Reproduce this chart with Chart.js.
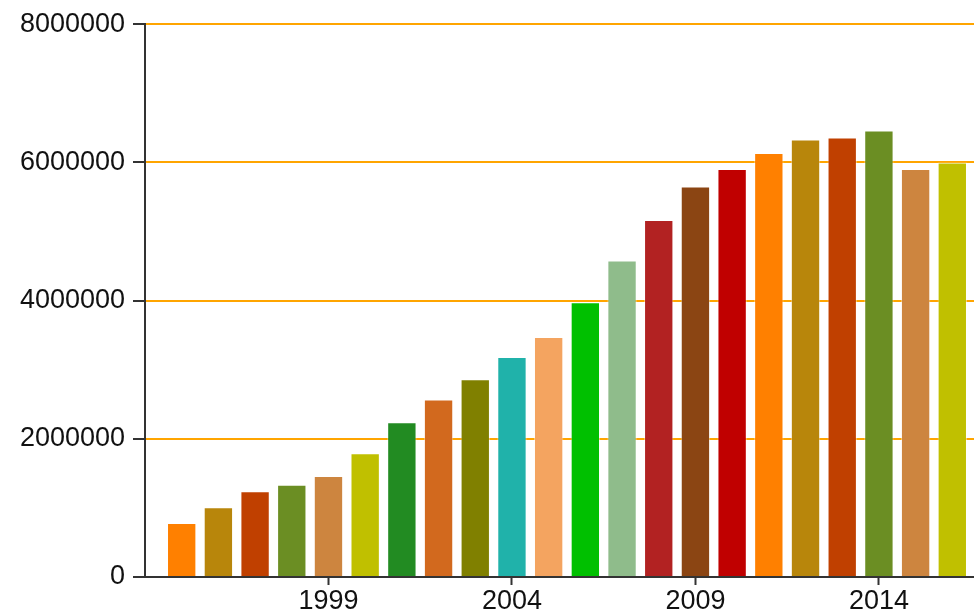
<!DOCTYPE html>
<html lang="en">
<head>
    <meta charset="UTF-8">
    <title>Yearly totals</title>
    <script src="https://cdn.jsdelivr.net/npm/chart.js"></script>
    <style>
        html, body {
            margin: 0;
            padding: 0;
            background: #ffffff;
            overflow: hidden;
        }
        .wrap {
            width: 974px;
            height: 615px;
            overflow: hidden;
        }
        canvas { display: block; }
    </style>
</head>
<body>
    <div class="wrap">
        <canvas id="chart" width="989" height="615"></canvas>
    </div>

    <script>
        // values
        const years = [1995, 1996, 1997, 1998, 1999, 2000, 2001, 2002, 2003, 2004, 2005,
                       2006, 2007, 2008, 2009, 2010, 2011, 2012, 2013, 2014, 2015, 2016];
        const values = [780000, 1010000, 1240000, 1335000, 1460000, 1790000, 2240000, 2570000,
                        2860000, 3185000, 3475000, 3975000, 4580000, 5165000, 5650000, 5905000,
                        6135000, 6330000, 6360000, 6460000, 5905000, 6000000];
        const barColors = ['#FF8000', '#B8860B', '#C04000', '#6B8E23', '#CD853F', '#C0C000',
                           '#228B22', '#D2691E', '#808000', '#20B2AA', '#F4A460', '#00C000',
                           '#8FBC8B', '#B22222', '#8B4513', '#C00000', '#FF8000', '#B8860B',
                           '#C04000', '#6B8E23', '#CD853F', '#C0C000'];
        const yTicks = [0, 2000000, 4000000, 6000000, 8000000];
        const xTicks = [1999, 2004, 2009, 2014];

        const font = { family: '"Liberation Sans", Arial, sans-serif', size: 27 };

        const ctx = document.getElementById('chart').getContext('2d');
        const chart = new Chart(ctx, {
            type: 'bar',
            data: {
                datasets: [{
                    data: years.map((y, i) => ({ x: y, y: values[i] })),
                    backgroundColor: barColors,
                    borderColor: 'rgba(255,255,255,0.45)',
                    borderWidth: 1,
                    barPercentage: 0.8,
                    categoryPercentage: 1.0
                }]
            },
            options: {
                responsive: false,
                animation: false,
                devicePixelRatio: 1,
                layout: { padding: { top: 23, right: 0, bottom: 0, left: 0 } },
                plugins: { legend: { display: false }, tooltip: { enabled: false } },
                scales: {
                    x: {
                        type: 'linear',
                        offset: false,
                        min: 1994,
                        max: 2017,
                        afterBuildTicks: s => { s.ticks = xTicks.map(v => ({ value: v })); },
                        afterFit: s => { s.height = 38; },
                        ticks: {
                            font: font,
                            color: '#111',
                            padding: 0,
                            maxRotation: 0,
                            callback: v => String(v)
                        },
                        grid: {
                            offset: false,
                            drawOnChartArea: false,
                            tickLength: 8,
                            tickColor: '#333',
                            tickWidth: 2
                        },
                        border: { color: '#333', width: 2 }
                    },
                    y: {
                        min: 0,
                        max: 8000000,
                        afterBuildTicks: s => { s.ticks = yTicks.map(v => ({ value: v })); },
                        afterFit: s => { s.width = 145; },
                        ticks: {
                            font: font,
                            color: '#111',
                            padding: 8,
                            callback: v => String(v)
                        },
                        grid: {
                            color: '#FFA500',
                            lineWidth: 2,
                            tickLength: 12,
                            tickColor: '#333',
                            tickWidth: 2
                        },
                        border: { color: '#333', width: 2 }
                    }
                }
            }
        });
    </script>
</body>
</html>
